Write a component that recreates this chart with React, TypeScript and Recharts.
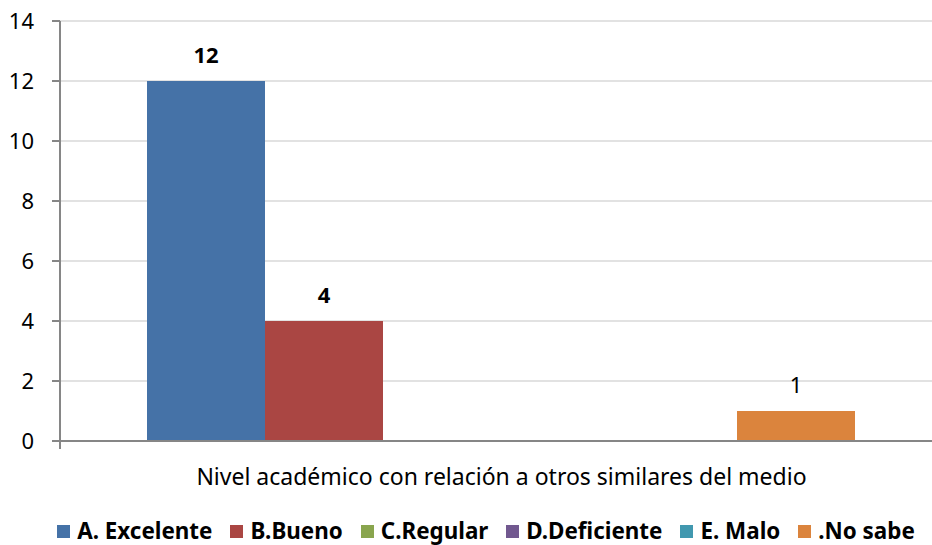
import { BarChart, Bar, XAxis, YAxis, CartesianGrid, LabelList, usePlotArea } from "recharts";

const category = "Nivel académico con relación a otros similares del medio";

const seriesNames = ["A. Excelente", "B.Bueno", "C.Regular", "D.Deficiente", "E. Malo", ".No sabe"];
const seriesValues = [12, 4, 0, 0, 0, 1];
const seriesColors = ["#4572A7", "#AA4643", "#89A54E", "#71588F", "#4198AF", "#DB843D"];
const boldLabels = [true, true, false, false, false, false];

const yTicks = [0, 2, 4, 6, 8, 10, 12, 14];

const keys = seriesNames.map((_, i) => `s${i}`);

const row: Record<string, string | number> = { name: category };
keys.forEach((k, i) => {
  row[k] = seriesValues[i];
});
const data = [row];

const FONT = "'Noto Sans', sans-serif";
const AXIS = "#868686";

function makeLabel(bold: boolean) {
  // eslint-disable-next-line @typescript-eslint/no-explicit-any
  return (props: any) => {
    const { x, y, width, value } = props;
    if (!value) return null;
    return (
      <text
        x={x + width / 2}
        y={y - 18.5}
        textAnchor="middle"
        fontFamily={FONT}
        fontSize={22}
        fontWeight={bold ? 700 : 400}
        fill="#000"
      >
        {value}
      </text>
    );
  };
}

// eslint-disable-next-line @typescript-eslint/no-explicit-any
function CategoryTick({ x, y, payload }: any) {
  return (
    <text x={x} y={y + 36} textAnchor="middle" fontFamily={FONT} fontSize={23} fill="#000">
      {payload.value}
    </text>
  );
}

// small tick mark under the axis corner, like Excel's category boundary tick
function CornerTick() {
  const area = usePlotArea();
  if (!area) return null;
  const bottom = area.y + area.height;
  return <line x1={area.x} x2={area.x} y1={bottom} y2={bottom + 8} stroke={AXIS} strokeWidth={2} />;
}

function CustomLegend() {
  return (
    <div
      style={{
        position: "absolute",
        top: 519,
        left: 0,
        width: 932,
        display: "flex",
        justifyContent: "center",
        gap: 18,
        fontFamily: FONT,
        fontWeight: 700,
        fontSize: 22.4,
        lineHeight: "24px",
        color: "#000",
        transform: "translateX(20px)",
      }}
    >
      {seriesNames.map((n, i) => (
        <div key={n} style={{ display: "flex", alignItems: "center", gap: 7, whiteSpace: "nowrap" }}>
          <span style={{ width: 13, height: 13, background: seriesColors[i], display: "inline-block" }} />
          <span>{n}</span>
        </div>
      ))}
    </div>
  );
}

export default function App() {
  return (
    <div
      style={{
        position: "absolute",
        left: 0,
        top: 0,
        width: 932,
        height: 545,
        overflow: "hidden",
        background: "#fff",
      }}
    >
      <BarChart
        width={943}
        height={545}
        data={data}
        margin={{ top: 21, right: 0, left: 0, bottom: 0 }}
        barCategoryGap={87}
        barGap={0}
      >
        <CartesianGrid vertical={false} stroke="#d9d9d9" strokeWidth={1.5} />
        <XAxis
          dataKey="name"
          axisLine={{ stroke: AXIS, strokeWidth: 2 }}
          tickLine={false}
          tick={<CategoryTick />}
          height={104}
        />
        <YAxis
          width={60}
          domain={[0, 14]}
          ticks={yTicks}
          axisLine={{ stroke: AXIS, strokeWidth: 2 }}
          tickLine={{ stroke: AXIS, strokeWidth: 2 }}
          tickSize={8}
          tick={{ fontSize: 22, fontFamily: FONT, fill: "#000" }}
          tickMargin={18}
        />
        {keys.map((k, i) => (
          <Bar key={k} dataKey={k} name={seriesNames[i]} fill={seriesColors[i]} isAnimationActive={false}>
            <LabelList dataKey={k} content={makeLabel(boldLabels[i])} />
          </Bar>
        ))}
        <CornerTick />
      </BarChart>
      <CustomLegend />
    </div>
  );
}
